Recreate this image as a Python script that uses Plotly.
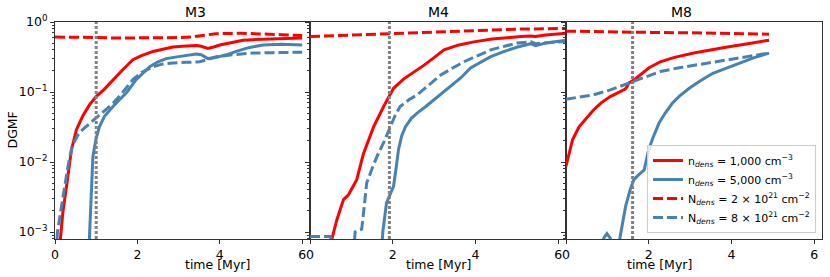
import plotly.graph_objects as go

# ---------------- data ----------------
panel_titles = ["M3", "M4", "M8"]
vline_t = [1.0, 1.92, 1.61]

# M3
m3_n1_t = [0.1, 0.19, 0.28, 0.4, 0.52, 0.67, 0.84, 1.0, 1.2, 1.41, 1.65, 1.89, 2.1, 2.38, 2.6, 2.86, 3.1, 3.43, 3.55, 3.71, 3.85, 4.0, 4.3, 4.56, 4.8, 5.1, 5.5, 6.0]
m3_n1_v = [5e-4, 1.9e-3, 4.5e-3, 0.015, 0.029, 0.045, 0.066, 0.086, 0.11, 0.15, 0.21, 0.29, 0.33, 0.38, 0.41, 0.44, 0.45, 0.46, 0.45, 0.42, 0.44, 0.47, 0.51, 0.55, 0.56, 0.57, 0.58, 0.59]
m3_n5_t = [0.82, 0.85, 0.89, 0.92, 1.0, 1.08, 1.2, 1.32, 1.45, 1.56, 1.75, 1.97, 2.15, 2.3, 2.5, 2.7, 3.0, 3.2, 3.43, 3.55, 3.71, 3.9, 4.16, 4.4, 4.7, 5.05, 5.5, 6.0]
m3_n5_v = [5e-4, 1.5e-3, 5.6e-3, 0.012, 0.022, 0.032, 0.045, 0.055, 0.066, 0.077, 0.10, 0.15, 0.19, 0.23, 0.27, 0.30, 0.32, 0.33, 0.35, 0.34, 0.30, 0.31, 0.34, 0.38, 0.43, 0.47, 0.48, 0.47]
m3_N2_t = [0.0, 0.5, 1.0, 1.5, 2.0, 2.5, 3.0, 3.3, 3.6, 3.9, 4.5, 5.0, 5.5, 6.0]
m3_N2_v = [0.61, 0.61, 0.60, 0.59, 0.59, 0.59, 0.60, 0.61, 0.65, 0.68, 0.69, 0.68, 0.66, 0.64]
m3_N8_t = [0.03, 0.06, 0.14, 0.22, 0.32, 0.42, 0.55, 0.67, 0.85, 1.0, 1.2, 1.41, 1.65, 1.89, 2.1, 2.38, 2.6, 2.86, 3.2, 3.51, 3.7, 3.91, 4.3, 4.8, 5.3, 6.0]
m3_N8_v = [5e-4, 1e-3, 2e-3, 4e-3, 9e-3, 0.017, 0.024, 0.029, 0.036, 0.042, 0.053, 0.069, 0.10, 0.15, 0.19, 0.23, 0.25, 0.26, 0.265, 0.27, 0.29, 0.32, 0.34, 0.36, 0.365, 0.37]

# M4
m4_n1_t = [0.5, 0.53, 0.65, 0.81, 0.93, 1.13, 1.29, 1.54, 1.78, 2.02, 2.27, 2.5, 2.75, 3.0, 3.24, 3.6, 3.96, 4.4, 4.77, 5.1, 5.34, 5.45, 5.7, 6.21]
m4_n1_v = [4e-4, 8e-4, 1.5e-3, 2.9e-3, 3.4e-3, 5.6e-3, 0.013, 0.032, 0.062, 0.113, 0.154, 0.19, 0.24, 0.31, 0.40, 0.47, 0.52, 0.57, 0.60, 0.62, 0.63, 0.62, 0.65, 0.69]
m4_n5_t = [1.72, 1.76, 1.85, 2.02, 2.08, 2.14, 2.22, 2.31, 2.45, 2.59, 2.8, 3.0, 3.2, 3.4, 3.65, 3.88, 4.1, 4.37, 4.7, 5.02, 5.34, 5.45, 5.7, 6.21]
m4_n5_v = [4e-4, 1e-3, 2.6e-3, 4.5e-3, 8e-3, 0.015, 0.024, 0.032, 0.042, 0.050, 0.062, 0.077, 0.097, 0.12, 0.16, 0.22, 0.26, 0.32, 0.38, 0.44, 0.49, 0.46, 0.50, 0.55]
m4_N2_t = [0.0, 1.0, 1.94, 3.0, 4.0, 5.0, 6.21]
m4_N2_v = [0.62, 0.65, 0.69, 0.73, 0.76, 0.79, 0.81]
m4_N8_t = [0.0, 0.3, 0.5, 0.55, 1.05, 1.09, 1.2, 1.25, 1.3, 1.37, 1.5, 1.62, 1.8, 1.94, 2.05, 2.18, 2.4, 2.59, 2.9, 3.16, 3.45, 3.72, 4.0, 4.37, 4.7, 5.02, 5.34, 5.45, 6.21]
m4_N8_v = [8.6e-4, 8.6e-4, 8.6e-4, 4e-4, 4e-4, 1.0e-3, 1.05e-3, 1.1e-3, 2e-3, 5e-3, 8e-3, 0.012, 0.02, 0.032, 0.045, 0.062, 0.078, 0.091, 0.13, 0.175, 0.22, 0.27, 0.32, 0.40, 0.45, 0.50, 0.52, 0.49, 0.53]

# M8
m8_n1_t = [0.0, 0.08, 0.16, 0.32, 0.5, 0.66, 0.85, 1.07, 1.25, 1.43, 1.48, 1.51, 1.65, 1.8, 2.0, 2.28, 2.6, 3.09, 3.5, 3.9, 4.4, 4.91]
m8_n1_v = [8.7e-3, 0.014, 0.021, 0.032, 0.043, 0.055, 0.07, 0.086, 0.097, 0.11, 0.12, 0.133, 0.15, 0.175, 0.22, 0.27, 0.31, 0.36, 0.40, 0.44, 0.49, 0.55]
m8_n5_t = [0.82, 0.92, 0.99, 1.07, 1.12, 1.23, 1.3, 1.44, 1.55, 1.64, 1.75, 1.89, 2.0, 2.1, 2.25, 2.4, 2.57, 2.75, 2.98, 3.25, 3.55, 3.9, 4.2, 4.55, 4.91]
m8_n5_v = [5e-4, 8.3e-4, 9.5e-4, 8.2e-4, 5e-4, 5e-4, 8e-4, 2.3e-3, 4e-3, 5.6e-3, 6.5e-3, 7.7e-3, 0.015, 0.022, 0.036, 0.05, 0.069, 0.088, 0.113, 0.145, 0.185, 0.22, 0.26, 0.31, 0.36]
m8_N2_t = [0.0, 1.0, 2.0, 3.0, 4.0, 4.91]
m8_N2_v = [0.74, 0.72, 0.71, 0.70, 0.68, 0.67]
m8_N8_t = [0.0, 0.33, 0.66, 1.07, 1.3, 1.56, 1.9, 2.28, 2.7, 3.09, 3.5, 3.9, 4.4, 4.91]
m8_N8_v = [0.079, 0.084, 0.091, 0.107, 0.12, 0.14, 0.165, 0.196, 0.22, 0.24, 0.26, 0.29, 0.32, 0.36]

series_names = [
    "n<sub><i>dens</i></sub> = 1,000 cm<sup>−3</sup>",
    "n<sub><i>dens</i></sub> = 5,000 cm<sup>−3</sup>",
    "N<sub><i>dens</i></sub> = 2 × 10<sup>21</sup> cm<sup>−2</sup>",
    "N<sub><i>dens</i></sub> = 8 × 10<sup>21</sup> cm<sup>−2</sup>",
]

panels = [
    [(m3_n1_t, m3_n1_v), (m3_n5_t, m3_n5_v), (m3_N2_t, m3_N2_v), (m3_N8_t, m3_N8_v)],
    [(m4_n1_t, m4_n1_v), (m4_n5_t, m4_n5_v), (m4_N2_t, m4_N2_v), (m4_N8_t, m4_N8_v)],
    [(m8_n1_t, m8_n1_v), (m8_n5_t, m8_n5_v), (m8_N2_t, m8_N2_v), (m8_N8_t, m8_N8_v)],
]

x_ticks = [0, 2, 4, 6]
y_ticks = [1e-3, 1e-2, 1e-1, 1]
y_ticktext = ["10<sup>−3</sup>", "10<sup>−2</sup>", "10<sup>−1</sup>", "10<sup>0</sup>"]

# ---------------- styling ----------------
RED = "#ff0000"
BLUE = "#4682b4"
styles = [
    dict(color=RED, width=3, dash="solid"),
    dict(color=BLUE, width=3, dash="solid"),
    dict(color=RED, width=3, dash="10px,4px"),
    dict(color=BLUE, width=3, dash="10px,4px"),
]
FONT = "DejaVu Sans"
W, H = 830, 277
L, R, T, B = 55, 8, 22, 38
plot_w = W - L - R
plot_h = H - T - B
edges = [0, 255 / plot_w, 511 / plot_w, 1.0]

fig = go.Figure()
for p, data in enumerate(panels):
    xa = "x" if p == 0 else f"x{p+1}"
    ya = "y" if p == 0 else f"y{p+1}"
    for s, (t, v) in enumerate(data):
        fig.add_trace(go.Scatter(
            x=t, y=v, mode="lines", line=styles[s], name=series_names[s],
            showlegend=(p == 0), legendgroup=str(s), xaxis=xa, yaxis=ya,
        ))
    fig.add_shape(type="line", xref=xa, yref=f"{ya} domain", x0=vline_t[p], x1=vline_t[p],
                  y0=0, y1=1, line=dict(color="#808080", width=3, dash="3px,2px"), layer="above")
    fig.add_annotation(text=panel_titles[p], xref="paper", yref="paper",
                       x=(edges[p] + edges[p + 1]) / 2, y=1.0, yshift=10, showarrow=False,
                       font=dict(family=FONT, size=14, color="black"), yanchor="middle")
    fig.add_annotation(text="time [Myr]", xref="paper", yref="paper",
                       x=(edges[p] + edges[p + 1]) / 2, y=0, yshift=-(264 - 239), showarrow=False,
                       font=dict(family=FONT, size=12.5, color="black"), yanchor="middle")

fig.add_annotation(text="DGMF", xref="paper", yref="paper", x=0, xshift=-(55 - 12), y=0.5,
                   textangle=-90, showarrow=False, xanchor="center", yanchor="middle",
                   font=dict(family=FONT, size=12.5, color="black"))

minor_vals = [m * 10.0 ** e for e in range(-4, 0) for m in range(2, 10)]
axis_line = dict(showline=True, linecolor="#333333", linewidth=1, mirror=True, automargin=False,
                 ticks="outside", ticklen=4, tickcolor="#333333", showgrid=False, zeroline=False)
layout = {}
for p in range(3):
    xk = "xaxis" if p == 0 else f"xaxis{p+1}"
    yk = "yaxis" if p == 0 else f"yaxis{p+1}"
    layout[xk] = dict(domain=[edges[p], edges[p + 1]], range=[0, 6.19], tickmode="array",
                      tickvals=x_ticks, ticktext=[str(v) for v in x_ticks],
                      anchor="y" if p == 0 else f"y{p+1}",
                      tickfont=dict(family=FONT, size=12.5, color="black"), **axis_line)
    layout[yk] = dict(type="log", range=[-3.1, 0.0], tickmode="array", tickvals=y_ticks,
                      ticktext=y_ticktext, showticklabels=(p == 0),
                      anchor="x" if p == 0 else f"x{p+1}",
                      minor=dict(tickmode="array", tickvals=minor_vals, ticks="outside", ticklen=2,
                                 tickcolor="#333333", showgrid=False),
                      tickfont=dict(family=FONT, size=12.5, color="black"), **axis_line)
    if p > 0:
        layout[yk]["matches"] = "y"

fig.update_layout(
    template="none",
    width=W, height=H, margin=dict(l=L, r=R, t=T, b=B),
    paper_bgcolor="white", plot_bgcolor="white",
    font=dict(family=FONT, size=11, color="black"),
    legend=dict(x=(816 - L) / plot_w, y=(239 - 233) / plot_h, xanchor="right", yanchor="bottom",
                bgcolor="rgba(255,255,255,0.8)", bordercolor="#cccccc", borderwidth=1,
                font=dict(family=FONT, size=11, color="black"), tracegroupgap=0),
    **layout,
)

fig.write_html("out.html", config={"displayModeBar": False},
               post_script="document.body.style.margin='0';")
